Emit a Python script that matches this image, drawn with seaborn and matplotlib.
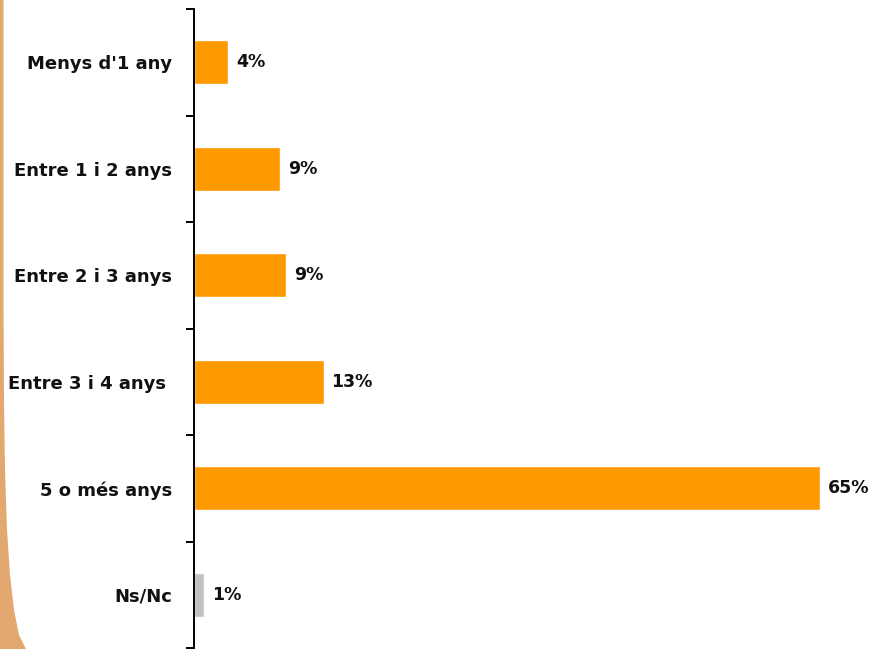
import matplotlib.pyplot as plt
import seaborn as sns
import pandas as pd
from matplotlib.patches import Polygon

# Data
categories = ["Menys d'1 any", "Entre 1 i 2 anys", "Entre 2 i 3 anys",
              "Entre 3 i 4 anys ", "5 o més anys", "Ns/Nc"]
values = [3.6, 9.0, 9.6, 13.5, 65.0, 1.1]
labels = ["4%", "9%", "9%", "13%", "65%", "1%"]
bar_colors = ["#FF9900", "#FF9900", "#FF9900", "#FF9900", "#FF9900", "#C0C0C0"]

df = pd.DataFrame({"cat": categories, "val": values})

sns.set_style("white")
plt.rcParams['font.family'] = ['DejaVu Sans']

fig = plt.figure(figsize=(8.72, 6.49), dpi=100)

# decorative tan edge on the left (pixel outline, converted to figure coords)
edge_px = [(0, 0), (3.5, 0), (3.5, 300), (4, 400), (5, 470), (7, 530),
           (10, 575), (14, 610), (19, 635), (26, 649), (0, 649)]
edge = Polygon([(x / 872, 1 - y / 649) for x, y in edge_px], closed=True,
               transform=fig.transFigure, facecolor="#E2A870",
               edgecolor="none", zorder=0)
fig.patches.append(edge)

ax = fig.add_axes([0.222, 0.0015, 0.7295, 0.9846])
sns.barplot(data=df, x="val", y="cat", hue="cat", palette=bar_colors,
            order=categories, hue_order=categories, legend=False,
            width=0.41, saturation=1, ax=ax)

for cont, lab in zip(ax.containers, labels):
    ax.bar_label(cont, labels=[lab], padding=5.5, fontsize=12.5,
                 fontweight="bold", color="#111111")

ax.set_xlim(0, 66)
ax.set_ylim(5.5, -0.5)
ax.set_xlabel("")
ax.set_ylabel("")
ax.set_xticks([])
ax.set_yticks(range(len(categories)))
ax.set_yticklabels(categories, fontsize=13, fontweight="bold", color="#111111")
ax.set_yticks([i - 0.5 for i in range(len(categories) + 1)], minor=True)
ax.tick_params(axis="y", which="major", length=0, pad=15.5)
ax.tick_params(axis="y", which="minor", length=6, width=1.4, color="black", left=True)

for side in ["top", "right", "bottom"]:
    ax.spines[side].set_visible(False)
ax.spines["left"].set_color("black")
ax.spines["left"].set_linewidth(1.4)
ax.patch.set_alpha(0)

fig.savefig("out.png", dpi=100)
